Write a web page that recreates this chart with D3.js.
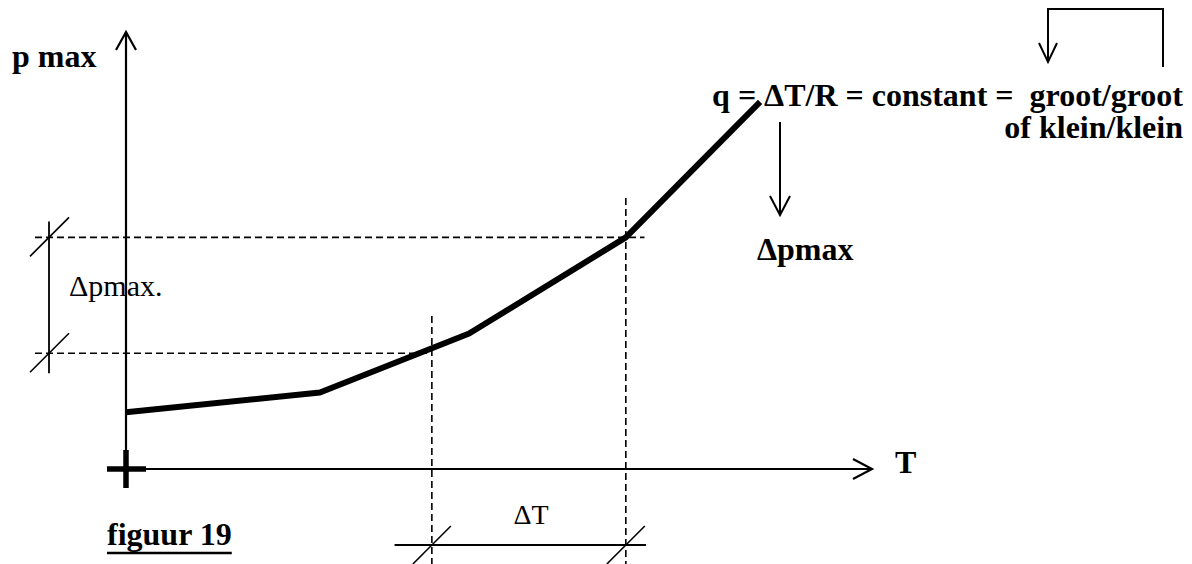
<!DOCTYPE html>
<html>
<head>
<meta charset="utf-8">
<script src="https://cdn.jsdelivr.net/npm/d3@7"></script>
<style>
  body { margin: 0; background: #fff; }
  text { font-family: "Liberation Serif", "Times New Roman", serif; fill: #000; }
</style>
</head>
<body>
<svg id="paper"></svg>
<script>
// curve: p max as a function of T (arbitrary units, 0..100 on each axis)
let tValues = [0, 26, 46, 67, 85];
let pValues = [13, 17.5, 31, 53, 84];
// the two T values of the ΔT interval and the two p levels of Δpmax
let deltaT = [41, 67];
let pLevels = [26.5, 53];

let width = 1192, height = 564;

let svg = d3.select("#paper")
    .attr("width", width)
    .attr("height", height);

let x = d3.scaleLinear().domain([0, 100]).range([126, 872]);
let y = d3.scaleLinear().domain([0, 100]).range([469, 32]);

let g = svg.append("g");

function line(x1, y1, x2, y2, w, dash) {
    let l = g.append("line")
        .attr("x1", x1).attr("y1", y1)
        .attr("x2", x2).attr("y2", y2)
        .attr("stroke", "#000")
        .attr("stroke-width", w);
    if (dash) l.attr("stroke-dasharray", dash);
    return l;
}

// dashed helper lines
let dash = "7,4";
line(x(-12.2), y(pLevels[1]), x(69.5), y(pLevels[1]), 1.6, dash);
line(x(-12.2), y(pLevels[0]), x(deltaT[0]), y(pLevels[0]), 1.6, dash);
line(x(deltaT[0]), y(35), x(deltaT[0]), height, 1.6, dash);
line(x(deltaT[1]), y(62), x(deltaT[1]), height, 1.6, dash);

// axes
line(x(0), y(100), x(0), 488, 2.2);
line(x(0), y(0), x(100), y(0), 2.2);
// arrowheads
g.append("path")
    .attr("d", `M${x(0) - 10},${y(100) + 18} L${x(0)},${y(100)} L${x(0) + 10},${y(100) + 18}`)
    .attr("fill", "none").attr("stroke", "#000").attr("stroke-width", 2.2);
g.append("path")
    .attr("d", `M${x(100) - 19},${y(0) - 10} L${x(100)},${y(0)} L${x(100) - 19},${y(0) + 10}`)
    .attr("fill", "none").attr("stroke", "#000").attr("stroke-width", 2.2);
// origin cross
line(x(0) - 19, y(0), x(0) + 20, y(0), 5.5);
line(x(0), y(0) - 19, x(0), y(0) + 19, 5.5);

// the curve
let curve = d3.line()
    .x((d, i) => x(tValues[i]))
    .y((d, i) => y(pValues[i]));
g.append("path")
    .datum(pValues)
    .attr("d", curve)
    .attr("fill", "none")
    .attr("stroke", "#000")
    .attr("stroke-width", 6)
    .attr("stroke-linejoin", "bevel");

// Δpmax dimension on the left
let dimX = 49;
line(dimX, y(pLevels[1]) - 16, dimX, y(pLevels[0]) + 20, 1.8);
pLevels.forEach(p => {
    line(dimX - 19, y(p) + 19, dimX + 20, y(p) - 20, 1.6);
});

// ΔT dimension at the bottom
let dimY = 545;
line(x(36), dimY, x(69.7), dimY, 1.8);
deltaT.forEach(t => {
    line(x(t) - 19, dimY + 19, x(t) + 19, dimY - 19, 1.6);
});

// arrow under the formula
line(780, 122, 780, 214, 2);
g.append("path")
    .attr("d", "M770,196 L780,215 L790,196")
    .attr("fill", "none").attr("stroke", "#000").attr("stroke-width", 2);

// bracket arrow top right
g.append("path")
    .attr("d", "M1163,67 V9 H1048 V61")
    .attr("fill", "none").attr("stroke", "#000").attr("stroke-width", 2);
g.append("path")
    .attr("d", "M1039,43 L1048,62 L1057,43")
    .attr("fill", "none").attr("stroke", "#000").attr("stroke-width", 2);

// texts
function label(txt, tx, ty, bold, size, anchor) {
    return svg.append("text")
        .attr("x", tx).attr("y", ty)
        .attr("font-size", size)
        .attr("font-weight", bold ? "bold" : "normal")
        .attr("text-anchor", anchor || "start")
        .attr("xml:space", "preserve")
        .text(txt);
}

label("p max", 12, 67, true, 32);
label("T", 895, 473, true, 32);
label("q = \u0394T/R = constant =  groot/groot", 1183, 106, true, 32, "end");
label("of klein/klein", 1183, 138, true, 32, "end");
label("\u0394pmax", 757, 260, true, 32);
label("\u0394pmax.", 69, 296, false, 30);
label("\u0394T", 531, 524, false, 28, "middle");

let fig = label("figuur 19", 107, 545, true, 32);
let bb = fig.node().getBBox();
svg.append("line")
    .attr("x1", bb.x).attr("x2", bb.x + bb.width)
    .attr("y1", 553).attr("y2", 553)
    .attr("stroke", "#000").attr("stroke-width", 2.5);
</script>
</body>
</html>
